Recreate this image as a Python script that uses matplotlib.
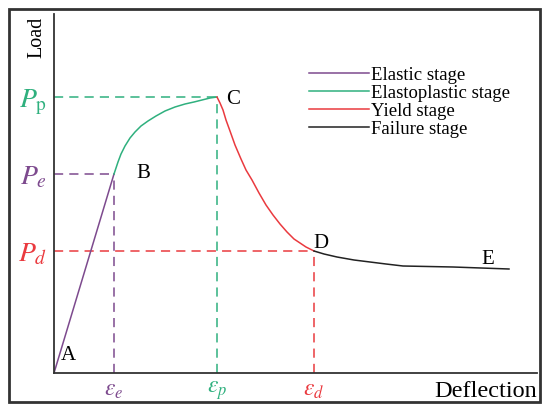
import matplotlib
matplotlib.use("Agg")
import matplotlib.pyplot as plt
from matplotlib.patches import Rectangle

plt.rcParams['font.family'] = ['Liberation Serif', 'DejaVu Serif']
plt.rcParams['mathtext.fontset'] = 'stix'

# ---- data (deflection, load) in arbitrary units ----
elastic_x = [0, 60]
elastic_y = [0, 199]
elastoplastic_x = [60, 62, 64, 67, 71, 76, 81, 87, 94, 102, 111, 121, 131, 140, 148, 156, 163]
elastoplastic_y = [199, 205, 211, 219, 227, 235, 241, 247, 252, 257, 262, 266, 269, 271, 273, 275, 276]
yield_x = [163, 166, 169, 172, 176, 181, 187, 192, 198, 205, 212, 219, 226, 233, 240, 246, 252, 256, 260]
yield_y = [276, 270, 263, 253, 242, 228, 214, 203, 193, 180, 168, 158, 149, 141, 134, 130, 126, 124, 122]
failure_x = [260, 270, 283, 300, 316, 332, 349, 374, 399, 427, 455]
failure_y = [122, 119, 116, 113, 111, 109, 107, 106.5, 106, 105, 104]

point_names = ['A', 'B', 'C', 'D', 'E']
stage_names = ['Elastic stage', 'Elastoplastic stage', 'Yield stage', 'Failure stage']
eps_e, eps_p, eps_d = 60, 163, 260
P_e, P_p, P_d = 199, 276, 122

c_purple = '#7d4a8e'
c_green = '#2fb07e'
c_red = '#ea3a3f'
c_black = '#222222'

fig = plt.figure(figsize=(5.5, 4.14), dpi=100)
W, H = 550, 414
ax = fig.add_axes([54 / W, 1 - 374 / H, (537 - 54) / W, (374 - 15) / H])
ax.set_xlim(0, 483)
ax.set_ylim(0, 359)

for s in ['top', 'right']:
    ax.spines[s].set_visible(False)
for s in ['left', 'bottom']:
    ax.spines[s].set_color('#333333')
    ax.spines[s].set_linewidth(1.3)

dash = (0, (6, 4))
# guide lines
ax.plot([0, eps_e], [P_e, P_e], color=c_purple, lw=1.1, ls=dash)
ax.plot([eps_e, eps_e], [0, P_e], color=c_purple, lw=1.1, ls=dash)
ax.plot([0, eps_p], [P_p, P_p], color=c_green, lw=1.1, ls=dash)
ax.plot([eps_p, eps_p], [0, P_p], color=c_green, lw=1.1, ls=dash)
ax.plot([0, eps_d], [P_d, P_d], color=c_red, lw=1.1, ls=dash)
ax.plot([eps_d, eps_d], [0, P_d], color=c_red, lw=1.1, ls=dash)

# curves
ax.plot(elastic_x, elastic_y, color=c_purple, lw=1.1, label=stage_names[0])
ax.plot(elastoplastic_x, elastoplastic_y, color=c_green, lw=1.1, label=stage_names[1])
ax.plot(yield_x, yield_y, color=c_red, lw=1.1, label=stage_names[2])
ax.plot(failure_x, failure_y, color=c_black, lw=1.1, label=stage_names[3])

# ticks
ax.set_xticks([eps_e, eps_p, eps_d])
ax.set_xticklabels([r'$\varepsilon_e$', r'$\varepsilon_p$', r'$\varepsilon_d$'], fontsize=17)
for lbl, c in zip(ax.get_xticklabels(), [c_purple, c_green, c_red]):
    lbl.set_color(c)
ax.set_yticks([P_e, P_p, P_d])
ax.set_yticklabels([r'$P_e$', r'$P_\mathrm{p}$', r'$P_d$'], fontsize=20)
for lbl, c in zip(ax.get_yticklabels(), [c_purple, c_green, c_red]):
    lbl.set_color(c)
ax.tick_params(axis='x', length=0, pad=4)
ax.tick_params(axis='y', length=0, pad=5)

# point labels
pts_x = [elastic_x[0], elastic_x[-1], elastoplastic_x[-1], yield_x[-1], failure_x[-1]]
pts_y = [elastic_y[0], elastic_y[-1], elastoplastic_y[-1], yield_y[-1], failure_y[-1]]
offsets = [(14, 18), (29, 1), (16, -1), (7, 8), (-21, 11)]
for n, x, y, (dx, dy) in zip(point_names, pts_x, pts_y, offsets):
    ax.text(x + dx, y + dy, n, fontsize=15, ha='center', va='center', color='black')

# axis names
ax.text(-17, 357, 'Load', rotation=90, fontsize=14.5, ha='center', va='top')
ax.text(483, -7, 'Deflection', fontsize=17.5, ha='right', va='top')

leg = ax.legend(loc='upper left', bbox_to_anchor=((309 - 54) / 483, (374 - 67) / 359),
                frameon=False, fontsize=13.5, handlelength=3.2, handletextpad=0.1,
                labelspacing=0.05, borderpad=0, borderaxespad=0)

# outer frame
fig.patches.append(Rectangle((9 / W, 1 - 403 / H), (540 - 9) / W, (403 - 10) / H,
                             transform=fig.transFigure, fill=False,
                             edgecolor='#333333', lw=2))

fig.savefig('out.png', dpi=100)
